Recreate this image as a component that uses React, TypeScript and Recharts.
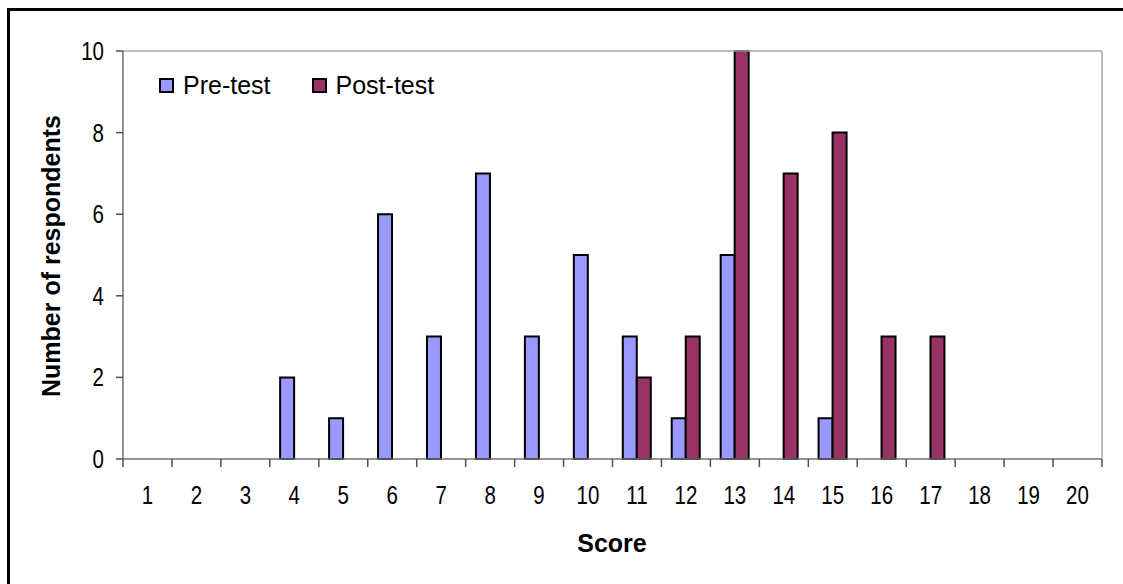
import React from "react";
import { BarChart, Bar, XAxis, YAxis, Legend, Customized, ReferenceLine } from "recharts";

const scores = ["1","2","3","4","5","6","7","8","9","10","11","12","13","14","15","16","17","18","19","20"];
const preTest = [0,0,0,2,1,6,3,7,3,5,3,1,5,0,1,0,0,0,0,0];
const postTest = [0,0,0,0,0,0,0,0,0,0,2,3,10,7,8,3,3,0,0,0];
const yTicks = [0,2,4,6,8,10];

const data = scores.map((s, i) => ({ score: s, pre: preTest[i], post: postTest[i] }));

const PRE = "#9999FF";
const POST = "#993366";
const SANS = "'Liberation Sans', Arial, sans-serif";
const TICK_STROKE = "#505050";

const LegendContent = () => (
  <div style={{ display: "flex", alignItems: "center", fontFamily: SANS, fontSize: 25, color: "#000", whiteSpace: "nowrap" }}>
    <span style={{ display: "inline-block", width: 11, height: 11, background: PRE, border: "2px solid #000", marginRight: 9 }} />
    <span style={{ marginRight: 41 }}>Pre-test</span>
    <span style={{ display: "inline-block", width: 11, height: 11, background: POST, border: "2px solid #000", marginRight: 9 }} />
    <span>Post-test</span>
  </div>
);

const XTick = (props: any) => {
  const { x, y, payload, index, visibleTicksCount } = props;
  const off = payload && typeof payload.offset === "number" ? payload.offset : 0;
  const isLast = index === visibleTicksCount - 1;
  return (
    <g transform={`translate(${x},${y})`}>
      <line x1={-off} x2={-off} y1={-27} y2={-19} stroke={TICK_STROKE} strokeWidth={1.5} />
      {isLast && <line x1={off} x2={off} y1={-27} y2={-19} stroke={TICK_STROKE} strokeWidth={1.5} />}
      <text transform="scale(0.82,1)" x={0} y={18} textAnchor="middle" fontFamily={SANS} fontSize={25} fill="#000">
        {payload.value}
      </text>
    </g>
  );
};

const YTick = (props: any) => {
  const { x, y, payload } = props;
  return (
    <g transform={`translate(${x},${y})`}>
      <text transform="scale(0.82,1)" x={0} y={9} textAnchor="end" fontFamily={SANS} fontSize={25} fill="#000">
        {payload.value}
      </text>
    </g>
  );
};

const YTitle = () => (
  <text
    x={51}
    y={256}
    transform="rotate(-90 51 256)"
    textAnchor="middle"
    dominantBaseline="central"
    fontFamily={SANS}
    fontWeight="bold"
    fontSize={25}
    fill="#000"
  >
    Number of respondents
  </text>
);

const XTitle = () => (
  <text x={612} y={552} textAnchor="middle" fontFamily={SANS} fontWeight="bold" fontSize={25} fill="#000">
    Score
  </text>
);

export default function App() {
  return (
    <div style={{ position: "fixed", left: 0, top: 0, width: 1123, height: 584, overflow: "hidden", background: "#fff" }}>
      <div
        style={{
          position: "absolute",
          left: 7,
          top: 8,
          width: 1200,
          height: 700,
          borderLeft: "3px solid #000",
          borderTop: "3px solid #000",
        }}
      />
      <div style={{ position: "absolute", left: 0, top: 0 }}>
        <BarChart
          width={1123}
          height={584}
          data={data}
          margin={{ top: 51, right: 20, bottom: 0, left: 0 }}
          barCategoryGap="21%"
          barGap={0}
        >
          <XAxis
            xAxisId="cat"
            dataKey="score"
            type="category"
            height={125}
            axisLine={{ stroke: "#707070", strokeWidth: 1.5 }}
            tickLine={false}
            tickSize={0}
            tickMargin={27}
            interval={0}
            tick={<XTick />}
          />
          <YAxis
            yAxisId="left"
            width={123}
            domain={[0, 10]}
            ticks={yTicks}
            interval={0}
            tickSize={7}
            tickMargin={12}
            axisLine={{ stroke: "#707070", strokeWidth: 1.5 }}
            tickLine={{ stroke: TICK_STROKE, strokeWidth: 1.5 }}
            tick={<YTick />}
          />
          <YAxis
            yAxisId="right"
            orientation="right"
            width={1}
            domain={[0, 10]}
            ticks={yTicks}
            tick={false}
            tickLine={false}
            axisLine={{ stroke: "#a6a6a6", strokeWidth: 1.5 }}
          />
          <ReferenceLine y={10} xAxisId="cat" yAxisId="left" stroke="#a6a6a6" strokeWidth={1.5} />
          <Legend
            layout="horizontal"
            verticalAlign="middle"
            align="center"
            content={<LegendContent />}
            wrapperStyle={{ position: "absolute", left: 159, top: 71, width: "auto", height: "auto" }}
          />
          <Bar
            dataKey="pre"
            name="Pre-test"
            xAxisId="cat"
            yAxisId="left"
            fill={PRE}
            stroke="#000"
            strokeWidth={2}
            isAnimationActive={false}
          />
          <Bar
            dataKey="post"
            name="Post-test"
            xAxisId="cat"
            yAxisId="left"
            fill={POST}
            stroke="#000"
            strokeWidth={2}
            isAnimationActive={false}
          />
          <Customized component={YTitle} />
          <Customized component={XTitle} />
        </BarChart>
      </div>
    </div>
  );
}
